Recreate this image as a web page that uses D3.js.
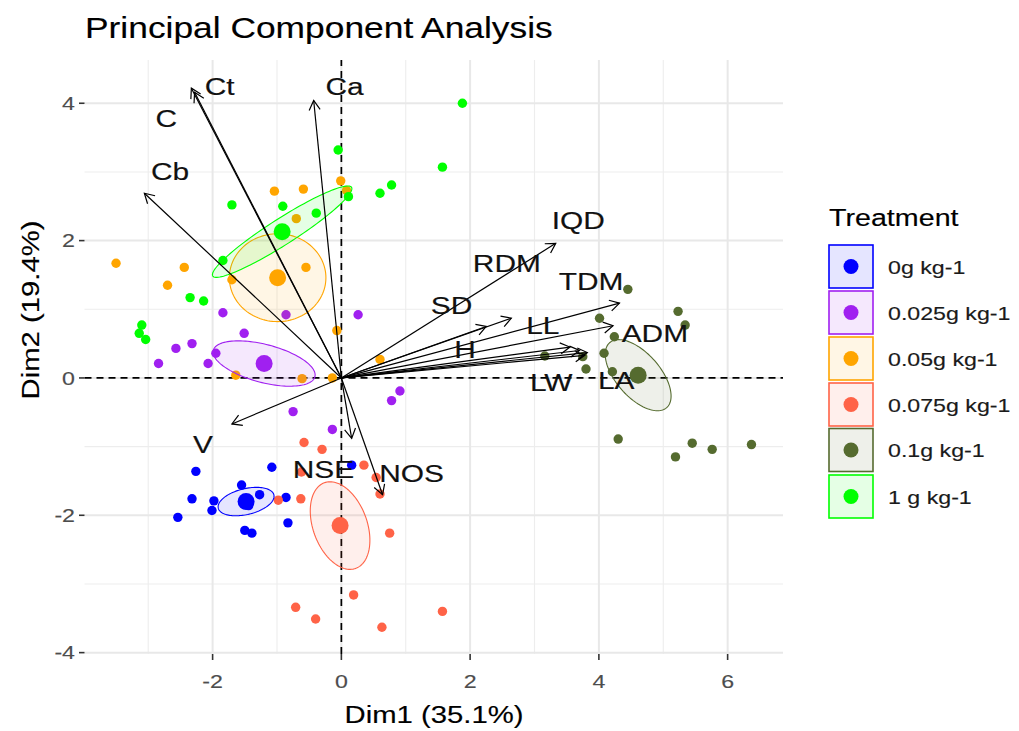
<!DOCTYPE html>
<html>
<head>
<meta charset="utf-8">
<script src="https://cdn.jsdelivr.net/npm/d3@7"></script>
<style>
  body { margin: 0; background: #fff; }
  svg { display: block; font-family: "Liberation Sans", Arial, sans-serif; }
</style>
</head>
<body>
<div id="chart"></div>
<script>
// treatment groups
var groups = ["0g kg-1", "0.025g kg-1", "0.05g kg-1", "0.075g kg-1", "0.1g kg-1", "1 g kg-1"];
var groupColors = ["#0000FF", "#A020F0", "#FFA500", "#FF6347", "#556B2F", "#00FF00"];

// individuals [Dim1, Dim2], one array per treatment
var ind_0 = [[-2.26,-1.36],[-1.08,-1.30],[-2.32,-1.76],[-1.98,-1.79],[-2.01,-1.93],[-1.55,-1.56],[-1.27,-1.70],
             [-0.86,-1.74],[-0.83,-2.11],[-2.54,-2.03],[-1.50,-2.22],[-1.39,-2.26],[0.16,-1.27],[-1.52,-1.82],[-1.44,-1.86]];
var ind_025 = [[-1.84,0.95],[-0.86,0.92],[-1.51,0.65],[-2.57,0.43],[-2.32,0.50],[-1.95,0.36],[-2.84,0.21],
               [-2.07,0.21],[-0.75,-0.49],[-0.14,-0.75],[0.26,0.92],[0.91,-0.19],[0.78,-0.33],[-1.25,0.22],[-1.15,0.20]];
var ind_05 = [[-0.01,2.87],[-1.04,2.72],[-0.59,2.75],[-0.70,2.32],[-3.50,1.67],[-2.44,1.61],[-2.70,1.35],
              [-1.70,1.43],[-0.55,1.61],[-0.07,0.69],[0.60,0.27],[-1.64,0.04],[-0.61,-0.01],[-0.14,0.00],[0.08,2.73]];
var ind_075 = [[-0.58,-0.94],[-0.30,-1.04],[0.35,-1.27],[0.54,-1.45],[0.60,-1.69],[-0.63,-1.76],[-0.98,-1.78],
               [0.75,-2.26],[-0.62,-1.37],[0.19,-3.16],[-0.71,-3.34],[-0.40,-3.51],[0.63,-3.63],[1.57,-3.40],[-0.04,-2.12]];
var ind_1 = [[4.45,1.29],[5.23,0.97],[5.34,0.77],[4.01,0.87],[4.24,0.60],[4.08,0.36],[3.16,0.32],[3.75,0.31],
             [3.80,0.13],[4.21,0.09],[4.30,-0.89],[5.19,-1.15],[5.45,-0.95],[5.76,-1.04],[6.37,-0.97]];
var ind_10 = [[-0.05,3.32],[-1.70,2.52],[-0.91,2.50],[-0.39,2.40],[0.11,2.64],[1.88,4.00],[1.57,3.07],[0.60,2.69],
              [0.78,2.81],[-2.35,1.17],[-2.14,1.12],[-1.84,1.71],[-3.10,0.77],[-3.14,0.65],[-3.04,0.56]];
var individuals = [ind_0, ind_025, ind_05, ind_075, ind_1, ind_10];

// group means
var centroids = [[-1.48,-1.80],[-1.20,0.21],[-0.99,1.46],[-0.02,-2.15],[4.61,0.04],[-0.92,2.13]];
// confidence ellipse semi-axes [a1, a2, b1, b2] in Dim units, around each mean
var ellipseAxes = [[0.432,0.097,0.047,-0.183],
                   [0.789,-0.193,-0.075,-0.268],
                   [0.75,0.0,0.0,0.64],
                   [0.245,-0.623,0.393,0.137],
                   [0.443,-0.473,-0.256,-0.211],
                   [1.078,0.646,0.109,-0.159]];

// variables
var varNames = ["Ct","C","Cb","Ca","IQD","RDM","TDM","SD","LL","H","ADM","LW","LA","V","NSE","NOS"];
var varDim1 = [-2.33,-2.28,-3.06,-0.43,3.33,2.64,4.32,2.25,3.55,3.70,4.22,3.78,3.82,-1.70,0.16,0.64];
var varDim2 = [4.22,4.16,2.69,4.04,1.96,0.87,1.09,0.75,0.45,0.40,0.76,0.33,0.37,-0.67,-0.88,-1.70];
var labelDim1 = [-1.89,-2.72,-2.66,0.05,3.68,2.57,3.88,1.71,3.13,1.92,4.87,3.26,4.27,-2.15,-0.28,1.09];
var labelDim2 = [4.25,3.78,3.00,4.25,2.29,1.67,1.40,1.05,0.77,0.41,0.65,-0.07,-0.03,-0.97,-1.34,-1.39];

var xTicks = [-2, 0, 2, 4, 6];
var yTicks = [-4, -2, 0, 2, 4];
var xMinor = [-3, -1, 1, 3, 5];
var yMinor = [-3, -1, 1, 3];

var W = 1019, H = 731;
var SX = 1.22; // the glyphs in the picture are wider than Arial

var svg = d3.select("#chart").append("svg")
    .attr("width", W)
    .attr("height", H);

var x = d3.scaleLinear().domain([-3.99, 6.86]).range([84.5, 783]);
var y = d3.scaleLinear().domain([-4.02, 4.63]).range([654, 60]);

function label(px, py, str, size, anchor, rot, col) {
    var t = "translate(" + px + "," + py + ")" + (rot ? " rotate(" + rot + ")" : "") + " scale(" + SX + ",1)";
    col = col || "#000";
    return svg.append("text")
        .attr("transform", t)
        .attr("text-anchor", anchor || "start")
        .attr("font-size", size)
        .attr("fill", col)
        .attr("stroke", col)
        .attr("stroke-width", 0.15)
        .text(str);
}

// grid
var grid = svg.append("g");
grid.selectAll(".vminor").data(xMinor).enter().append("line")
    .attr("x1", function(d){ return x(d); }).attr("x2", function(d){ return x(d); })
    .attr("y1", y.range()[0]).attr("y2", y.range()[1])
    .attr("stroke", "#ededed").attr("stroke-width", 1.1);
grid.selectAll(".hminor").data(yMinor).enter().append("line")
    .attr("y1", function(d){ return y(d); }).attr("y2", function(d){ return y(d); })
    .attr("x1", x.range()[0]).attr("x2", x.range()[1])
    .attr("stroke", "#ededed").attr("stroke-width", 1.1);
grid.selectAll(".vmajor").data(xTicks).enter().append("line")
    .attr("x1", function(d){ return x(d); }).attr("x2", function(d){ return x(d); })
    .attr("y1", y.range()[0]).attr("y2", y.range()[1])
    .attr("stroke", "#e8e8e8").attr("stroke-width", 2);
grid.selectAll(".hmajor").data(yTicks).enter().append("line")
    .attr("y1", function(d){ return y(d); }).attr("y2", function(d){ return y(d); })
    .attr("x1", x.range()[0]).attr("x2", x.range()[1])
    .attr("stroke", "#e8e8e8").attr("stroke-width", 2);

// axes through the origin
svg.append("line")
    .attr("x1", x(0)).attr("x2", x(0)).attr("y1", y.range()[0]).attr("y2", y.range()[1])
    .attr("stroke", "#000").attr("stroke-width", 1.7).attr("stroke-dasharray", "7,5");
svg.append("line")
    .attr("y1", y(0)).attr("y2", y(0)).attr("x1", x.range()[0]).attr("x2", x.range()[1])
    .attr("stroke", "#000").attr("stroke-width", 1.7).attr("stroke-dasharray", "7,5");

// points
individuals.forEach(function(pts, g){
    svg.append("g").selectAll("circle").data(pts).enter().append("circle")
        .attr("cx", function(d){ return x(d[0]); })
        .attr("cy", function(d){ return y(d[1]); })
        .attr("r", 4.7)
        .attr("fill", groupColors[g]);
});

// ellipses
var ang = d3.range(0, 2 * Math.PI, Math.PI / 60);
var ellLine = d3.line().curve(d3.curveLinearClosed);
centroids.forEach(function(c, g){
    var a = ellipseAxes[g];
    var pts = ang.map(function(t){
        return [x(c[0] + Math.cos(t) * a[0] + Math.sin(t) * a[2]),
                y(c[1] + Math.cos(t) * a[1] + Math.sin(t) * a[3])];
    });
    svg.append("path")
        .attr("d", ellLine(pts))
        .attr("fill", groupColors[g]).attr("fill-opacity", 0.1)
        .attr("stroke", groupColors[g]).attr("stroke-width", 1.1);
});

// group means
svg.append("g").selectAll("circle").data(centroids).enter().append("circle")
    .attr("cx", function(d){ return x(d[0]); })
    .attr("cy", function(d){ return y(d[1]); })
    .attr("r", 8.5)
    .attr("fill", function(d, i){ return groupColors[i]; });

// variable arrows
var arrows = svg.append("g").attr("stroke", "#000").attr("stroke-width", 1.2).attr("fill", "none");
varNames.forEach(function(v, i){
    var x0 = x(0), y0 = y(0), x1 = x(varDim1[i]), y1 = y(varDim2[i]);
    var th = Math.atan2(y1 - y0, x1 - x0), L = 11, s = Math.PI / 6;
    arrows.append("line").attr("x1", x0).attr("y1", y0).attr("x2", x1).attr("y2", y1);
    arrows.append("path").attr("d",
        "M" + (x1 - L * Math.cos(th - s)) + "," + (y1 - L * Math.sin(th - s)) +
        "L" + x1 + "," + y1 +
        "L" + (x1 - L * Math.cos(th + s)) + "," + (y1 - L * Math.sin(th + s)));
});

varNames.forEach(function(v, i){
    label(x(labelDim1[i]), y(labelDim2[i]) + 8.5, v, 24.5, "middle", 0, "#111");
});

// axis ticks and labels
svg.append("g").selectAll("line").data(xTicks).enter().append("line")
    .attr("x1", function(d){ return x(d); }).attr("x2", function(d){ return x(d); })
    .attr("y1", 654).attr("y2", 660).attr("stroke", "#333").attr("stroke-width", 1.6);
svg.append("g").selectAll("line").data(yTicks).enter().append("line")
    .attr("y1", function(d){ return y(d); }).attr("y2", function(d){ return y(d); })
    .attr("x1", 79).attr("x2", 84.5).attr("stroke", "#333").attr("stroke-width", 1.6);
xTicks.forEach(function(d){
    label(x(d), 688, d, 19, "middle", 0, "#4d4d4d");
});
yTicks.forEach(function(d){
    label(75, y(d) + 6.8, d, 19, "end", 0, "#4d4d4d");
});

label(x(1.44), 723, "Dim1 (35.1%)", 24, "middle");
label(39, 310, "Dim2 (19.4%)", 24, "middle", -90);

// title
label(85, 38, "Principal Component Analysis", 29);

// legend
label(829, 226, "Treatment", 23.5);
var keyTop = [245, 291, 337, 383, 428.5, 475];
groups.forEach(function(gname, g){
    var ky = keyTop[g];
    svg.append("rect")
        .attr("x", 829).attr("y", ky).attr("width", 44).attr("height", 43)
        .attr("fill", groupColors[g]).attr("fill-opacity", 0.1)
        .attr("stroke", groupColors[g]).attr("stroke-width", 1.6);
    svg.append("circle")
        .attr("cx", 851).attr("cy", ky + 21.5).attr("r", 7.5)
        .attr("fill", groupColors[g]);
    label(888, ky + 28.5, gname, 19, "start", 0, "#1a1a1a");
});
</script>
</body>
</html>
